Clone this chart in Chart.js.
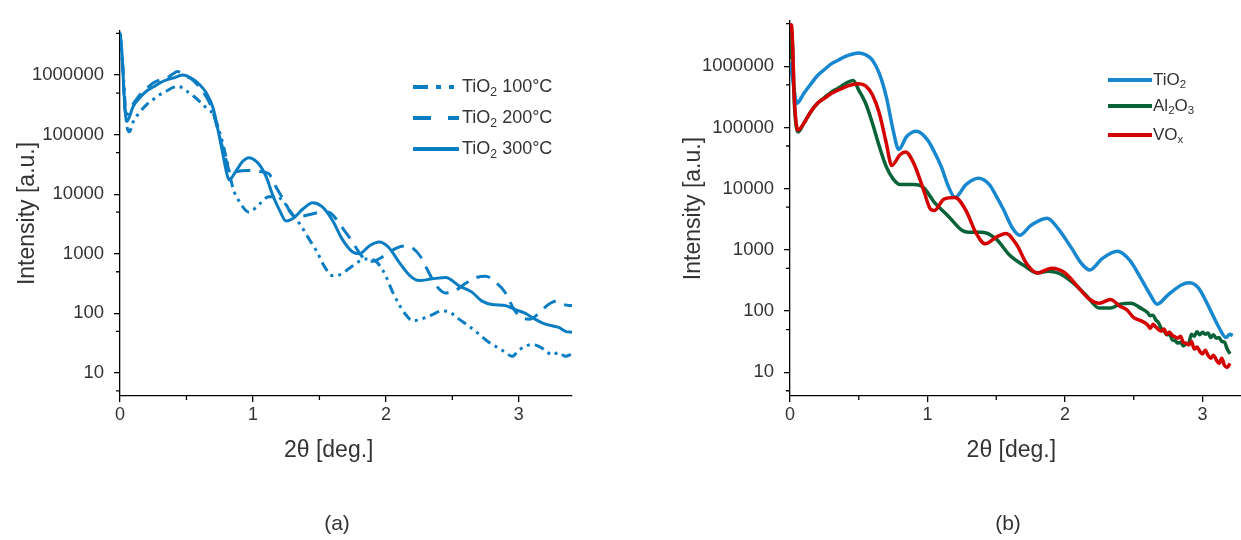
<!DOCTYPE html>
<html>
<head>
<meta charset="utf-8">
<script src="https://cdn.jsdelivr.net/npm/chart.js@4.4.1/dist/chart.umd.min.js"></script>
<style>
  body { margin: 0; background: #fff; font-family: "Liberation Sans", Arial, sans-serif; }
  #wrap { position: relative; width: 1241px; height: 540px; overflow: hidden; }
  .box { position: absolute; top: 0; height: 540px; }
  .leg { position: absolute; display: flex; align-items: center; color: #333; white-space: nowrap; }
  .leg svg { display: block; }
  .leg sub { font-size: 0.68em; vertical-align: -0.3em; line-height: 0; }
  .cap { position: absolute; width: 60px; text-align: center; font-size: 21px; color: #333; }
</style>
</head>
<body>
<div id="wrap">
  <div class="box" style="left:0;width:620px"><canvas id="chartA" width="620" height="540"></canvas></div>
  <div class="box" style="left:620px;width:621px"><canvas id="chartB" width="621" height="540"></canvas></div>

  <div class="leg" style="left:413px;top:76px;font-size:18px">
    <svg width="46" height="8"><line x1="0" y1="4" x2="46" y2="4" stroke="#0b7dc3" stroke-width="4" stroke-dasharray="15 8 5 8 5 100"/></svg>
    <span style="margin-left:3px">TiO<sub>2</sub> 100°C</span>
  </div>
  <div class="leg" style="left:413px;top:107px;font-size:18px">
    <svg width="46" height="8"><line x1="0" y1="4" x2="46" y2="4" stroke="#0b7dc3" stroke-width="4" stroke-dasharray="18 17 11"/></svg>
    <span style="margin-left:3px">TiO<sub>2</sub> 200°C</span>
  </div>
  <div class="leg" style="left:413px;top:138px;font-size:18px">
    <svg width="46" height="8"><line x1="0" y1="4" x2="46" y2="4" stroke="#0b7dc3" stroke-width="4"/></svg>
    <span style="margin-left:3px">TiO<sub>2</sub> 300°C</span>
  </div>

  <div class="leg" style="left:1108px;top:70px;font-size:17px">
    <svg width="44" height="8"><line x1="0" y1="4" x2="44" y2="4" stroke="#1788d0" stroke-width="4"/></svg>
    <span style="margin-left:1px">TiO<sub>2</sub></span>
  </div>
  <div class="leg" style="left:1108px;top:96px;font-size:17px">
    <svg width="44" height="8"><line x1="0" y1="4" x2="44" y2="4" stroke="#0a6338" stroke-width="4"/></svg>
    <span style="margin-left:1px">Al<sub>2</sub>O<sub>3</sub></span>
  </div>
  <div class="leg" style="left:1108px;top:125px;font-size:17px">
    <svg width="44" height="8"><line x1="0" y1="4" x2="44" y2="4" stroke="#d40000" stroke-width="4"/></svg>
    <span style="margin-left:1px">VO<sub>x</sub></span>
  </div>

  <div class="cap" style="left:307px;top:511px">(a)</div>
  <div class="cap" style="left:978px;top:511px">(b)</div>
</div>

<script>
// ---- panel (a): TiO2 films at three temperatures ----
var angle100 = [0, 0.01, 0.02, 0.04, 0.05, 0.07, 0.1, 0.15, 0.2, 0.25, 0.3, 0.35, 0.4, 0.44, 0.5, 0.55, 0.6, 0.65, 0.7, 0.75, 0.8, 0.85, 0.9, 0.97, 1.05, 1.12, 1.18, 1.23, 1.3, 1.36, 1.42, 1.48, 1.54, 1.6, 1.66, 1.72, 1.78, 1.84, 1.9, 1.95, 2.0, 2.05, 2.1, 2.15, 2.2, 2.25, 2.3, 2.35, 2.42, 2.48, 2.55, 2.62, 2.7, 2.78, 2.85, 2.9, 2.95, 3.0, 3.05, 3.1, 3.15, 3.2, 3.25, 3.3, 3.35, 3.4];
var int100 = [4900000, 3000000, 1500000, 300000, 150000, 112000, 166000, 240000, 320000, 390000, 470000, 540000, 620000, 650000, 540000, 450000, 360000, 280000, 220000, 110000, 40000, 12600, 7400, 5000, 6900, 9100, 9100, 7500, 4500, 3000, 1800, 1100, 600, 430, 450, 560, 700, 820, 800, 650, 420, 230, 140, 95, 75, 78, 85, 95, 110, 105, 80, 62, 45, 32, 26, 22, 19, 24, 28, 30, 28, 24, 20, 22, 19, 21];

var angle200 = [0, 0.01, 0.02, 0.04, 0.06, 0.08, 0.1, 0.15, 0.2, 0.25, 0.3, 0.35, 0.4, 0.43, 0.5, 0.55, 0.6, 0.65, 0.68, 0.71, 0.74, 0.78, 0.81, 0.83, 0.88, 0.95, 1.0, 1.05, 1.12, 1.16, 1.2, 1.24, 1.28, 1.32, 1.38, 1.45, 1.52, 1.57, 1.62, 1.68, 1.74, 1.8, 1.85, 1.9, 1.96, 2.02, 2.08, 2.14, 2.2, 2.26, 2.32, 2.38, 2.45, 2.52, 2.6, 2.68, 2.75, 2.82, 2.9, 2.96, 3.02, 3.08, 3.15, 3.22, 3.28, 3.34, 3.4];
var int200 = [4800000, 3000000, 1400000, 240000, 220000, 280000, 330000, 470000, 590000, 740000, 830000, 890000, 1050000, 1150000, 950000, 820000, 620000, 430000, 320000, 200000, 110000, 52000, 30000, 22000, 24000, 25000, 25000, 24000, 22000, 15000, 10500, 7500, 5000, 4200, 4300, 4700, 5000, 5000, 4000, 2600, 1700, 1050, 780, 750, 850, 1050, 1250, 1350, 1250, 900, 500, 290, 220, 240, 320, 400, 420, 340, 220, 120, 85, 80, 100, 140, 160, 140, 135];

var angle300 = [0, 0.01, 0.02, 0.03, 0.05, 0.1, 0.15, 0.2, 0.25, 0.3, 0.35, 0.4, 0.47, 0.55, 0.6, 0.65, 0.7, 0.75, 0.78, 0.8, 0.82, 0.87, 0.92, 0.97, 1.05, 1.1, 1.15, 1.2, 1.25, 1.3, 1.38, 1.45, 1.52, 1.6, 1.67, 1.75, 1.8, 1.88, 1.95, 2.02, 2.1, 2.18, 2.25, 2.35, 2.45, 2.55, 2.65, 2.72, 2.8, 2.9, 2.95, 3.0, 3.05, 3.1, 3.15, 3.2, 3.25, 3.3, 3.35, 3.4];
var int300 = [5200000, 3200000, 1500000, 500000, 166000, 300000, 420000, 540000, 630000, 740000, 830000, 890000, 1000000, 850000, 690000, 500000, 280000, 87000, 40000, 24000, 17400, 24000, 35000, 41000, 31000, 19500, 9500, 5400, 3550, 3900, 5750, 7200, 6200, 3600, 1780, 1070, 1000, 1380, 1580, 1290, 720, 430, 355, 380, 400, 290, 225, 162, 141, 135, 122, 110, 100, 85, 74, 66, 62, 58, 50, 48];

// ---- panel (b): TiO2, Al2O3, VOx ----
var angleTi = [0, 0.02, 0.04, 0.05, 0.1, 0.15, 0.2, 0.25, 0.3, 0.35, 0.4, 0.45, 0.5, 0.55, 0.6, 0.65, 0.7, 0.75, 0.79, 0.85, 0.92, 1.0, 1.05, 1.1, 1.15, 1.2, 1.28, 1.37, 1.45, 1.5, 1.55, 1.62, 1.67, 1.75, 1.87, 1.95, 2.05, 2.12, 2.18, 2.27, 2.38, 2.47, 2.55, 2.62, 2.67, 2.75, 2.85, 2.9, 2.97, 3.05, 3.12, 3.17, 3.2, 3.22];
var intTi = [1200000, 600000, 300000, 250000, 360000, 510000, 710000, 890000, 1100000, 1260000, 1450000, 1580000, 1660000, 1550000, 1260000, 760000, 320000, 91000, 44000, 72000, 87000, 63000, 40000, 23000, 11200, 7200, 11700, 14800, 11700, 7600, 4700, 2240, 1740, 2500, 3300, 2240, 1050, 600, 470, 720, 950, 680, 350, 185, 130, 185, 270, 290, 240, 112, 54, 37, 42, 40];

var angleAl = [0, 0.01, 0.02, 0.03, 0.06, 0.1, 0.15, 0.2, 0.25, 0.3, 0.35, 0.4, 0.46, 0.5, 0.55, 0.6, 0.65, 0.7, 0.75, 0.8, 0.9, 0.97, 1.05, 1.15, 1.25, 1.3, 1.4, 1.5, 1.6, 1.7, 1.8, 1.88, 1.95, 2.05, 2.15, 2.25, 2.33, 2.4, 2.48, 2.55, 2.6, 2.62, 2.64, 2.66, 2.68, 2.7, 2.72, 2.74, 2.76, 2.78, 2.8, 2.82, 2.84, 2.86, 2.88, 2.9, 2.92, 2.94, 2.96, 2.98, 3.0, 3.02, 3.04, 3.06, 3.08, 3.1, 3.12, 3.14, 3.16, 3.18, 3.2];
var intAl = [1300000, 4000000, 1800000, 300000, 85000, 117000, 180000, 250000, 310000, 380000, 440000, 520000, 590000, 410000, 250000, 117000, 49000, 23000, 14500, 11700, 11700, 10500, 6000, 3600, 2100, 1950, 1950, 1500, 810, 560, 420, 450, 420, 300, 185, 112, 112, 130, 135, 112, 95, 84, 86, 72, 65, 52, 48, 41, 42, 34, 33, 30, 31, 27, 29, 30, 42, 39, 46, 41, 45, 42, 44, 37, 41, 36, 37, 32, 31, 24, 20];

var angleV = [0, 0.01, 0.02, 0.03, 0.05, 0.06, 0.1, 0.15, 0.2, 0.25, 0.3, 0.35, 0.4, 0.45, 0.5, 0.55, 0.6, 0.65, 0.7, 0.74, 0.8, 0.84, 0.9, 0.97, 1.02, 1.05, 1.12, 1.2, 1.28, 1.35, 1.42, 1.5, 1.57, 1.65, 1.72, 1.8, 1.9, 2.0, 2.1, 2.18, 2.25, 2.33, 2.4, 2.45, 2.5, 2.55, 2.6, 2.62, 2.64, 2.66, 2.68, 2.7, 2.72, 2.74, 2.76, 2.78, 2.8, 2.82, 2.84, 2.86, 2.88, 2.9, 2.92, 2.94, 2.96, 2.98, 3.0, 3.02, 3.04, 3.06, 3.08, 3.1, 3.12, 3.14, 3.16, 3.18, 3.2];
var intV = [4500000, 4800000, 2000000, 350000, 100000, 91000, 117000, 180000, 250000, 300000, 360000, 410000, 460000, 500000, 520000, 480000, 340000, 170000, 56000, 24000, 36000, 40000, 26000, 9800, 4700, 4400, 6800, 7200, 4400, 1950, 1260, 1620, 1860, 1200, 600, 420, 500, 420, 240, 155, 135, 155, 120, 105, 78, 70, 60, 52, 61, 55, 50, 47, 51, 42, 45, 40, 38, 36, 39, 31, 30, 28, 32, 24, 26, 22, 20, 23, 19, 17, 19, 16, 14, 17, 13, 12, 14];

// axis ticks
var yMajor = [10, 100, 1000, 10000, 100000, 1000000];
var yMinor = [5, 50, 500, 5000, 50000, 500000, 5000000];
var xMajor = [0, 1, 2, 3];
var xMinor = [0.5, 1.5, 2.5];

var fontFam = '"Liberation Sans", Arial, sans-serif';
var txtColor = '#333';

function pts(xs, ys) {
    return xs.map(function(x, i){ return {x: x, y: ys[i]}; });
}

// minor ticks + x axis title placed at a given angle
var extras = {
    id: 'extras',
    afterDraw: function(chart, args, opts) {
        var ctx = chart.ctx;
        var x = chart.scales.x, y = chart.scales.y;
        ctx.save();
        ctx.strokeStyle = '#000';
        ctx.lineWidth = 1.3;
        ctx.beginPath();
        yMinor.forEach(function(v){
            if (v >= y.min && v <= y.max) {
                var py = y.getPixelForValue(v);
                ctx.moveTo(x.left - 4, py);
                ctx.lineTo(x.left, py);
            }
        });
        xMinor.forEach(function(v){
            if (v <= x.max) {
                var px = x.getPixelForValue(v);
                ctx.moveTo(px, y.bottom);
                ctx.lineTo(px, y.bottom + 4);
            }
        });
        ctx.stroke();
        ctx.fillStyle = txtColor;
        ctx.font = '23px ' + fontFam;
        ctx.textAlign = 'center';
        ctx.textBaseline = 'middle';
        ctx.fillText('2θ [deg.]', x.getPixelForValue(opts.titleAt), y.bottom + 55);
        ctx.restore();
    }
};

function makeScales(xmax, yWidth) {
    return {
        x: {
            type: 'linear', min: 0, max: xmax,
            afterBuildTicks: function(s){ s.ticks = xMajor.map(function(v){ return {value: v}; }); },
            afterFit: function(s){ s.height = 70; },
            grid: { drawOnChartArea: false, tickLength: 6, color: '#000', lineWidth: 1.3 },
            border: { color: '#000', width: 1.3 },
            ticks: { font: {family: fontFam, size: 18}, color: txtColor, padding: 2, maxRotation: 0,
                     callback: function(v){ return String(v); } }
        },
        y: {
            type: 'logarithmic', min: 4.1, max: 5500000,
            afterBuildTicks: function(s){ s.ticks = yMajor.map(function(v){ return {value: v}; }); },
            afterFit: function(s){ s.width = yWidth; },
            grid: { drawOnChartArea: false, tickLength: 6, color: '#000', lineWidth: 1.3 },
            border: { color: '#000', width: 1.3 },
            ticks: { font: {family: fontFam, size: 18.5}, color: txtColor, padding: 10,
                     callback: function(v){ return String(v); } },
            title: { display: true, text: 'Intensity [a.u.]', font: {family: fontFam, size: 23}, color: txtColor,
                     padding: {top: 0, bottom: 0} }
        }
    };
}

var lineBase = { pointRadius: 0, cubicInterpolationMode: 'monotone' };

new Chart(document.getElementById('chartA'), {
    type: 'line',
    data: {
        datasets: [
            Object.assign({ label: 'TiO2 100°C', data: pts(angle100, int100), borderColor: '#0b7dc3', borderWidth: 3,
              borderDash: [10, 5, 3, 5, 3, 5] }, lineBase),
            Object.assign({ label: 'TiO2 200°C', data: pts(angle200, int200), borderColor: '#0b7dc3', borderWidth: 3,
              borderDash: [14, 9] }, lineBase),
            Object.assign({ label: 'TiO2 300°C', data: pts(angle300, int300), borderColor: '#0b7dc3', borderWidth: 3 }, lineBase)
        ]
    },
    options: {
        responsive: false, animation: false, maintainAspectRatio: false,
        layout: { padding: { left: 14, right: 48, top: 31, bottom: 74 } },
        scales: makeScales(3.4, 106),
        plugins: { legend: { display: false }, tooltip: { enabled: false }, extras: { titleAt: 1.57 } }
    },
    plugins: [extras]
});

new Chart(document.getElementById('chartB'), {
    type: 'line',
    data: {
        datasets: [
            Object.assign({ label: 'TiO2', data: pts(angleTi, intTi), borderColor: '#1788d0', borderWidth: 3.5, order: 2 }, lineBase),
            Object.assign({ label: 'Al2O3', data: pts(angleAl, intAl), borderColor: '#0a6338', borderWidth: 3.5, order: 1 }, lineBase),
            Object.assign({ label: 'VOx', data: pts(angleV, intV), borderColor: '#d40000', borderWidth: 3.5, order: 0 }, lineBase)
        ]
    },
    options: {
        responsive: false, animation: false, maintainAspectRatio: false,
        layout: { padding: { left: 60, right: 0, top: 16, bottom: 74 } },
        scales: makeScales(3.28, 110),
        plugins: { legend: { display: false }, tooltip: { enabled: false }, extras: { titleAt: 1.61 } }
    },
    plugins: [extras]
});
</script>
</body>
</html>
